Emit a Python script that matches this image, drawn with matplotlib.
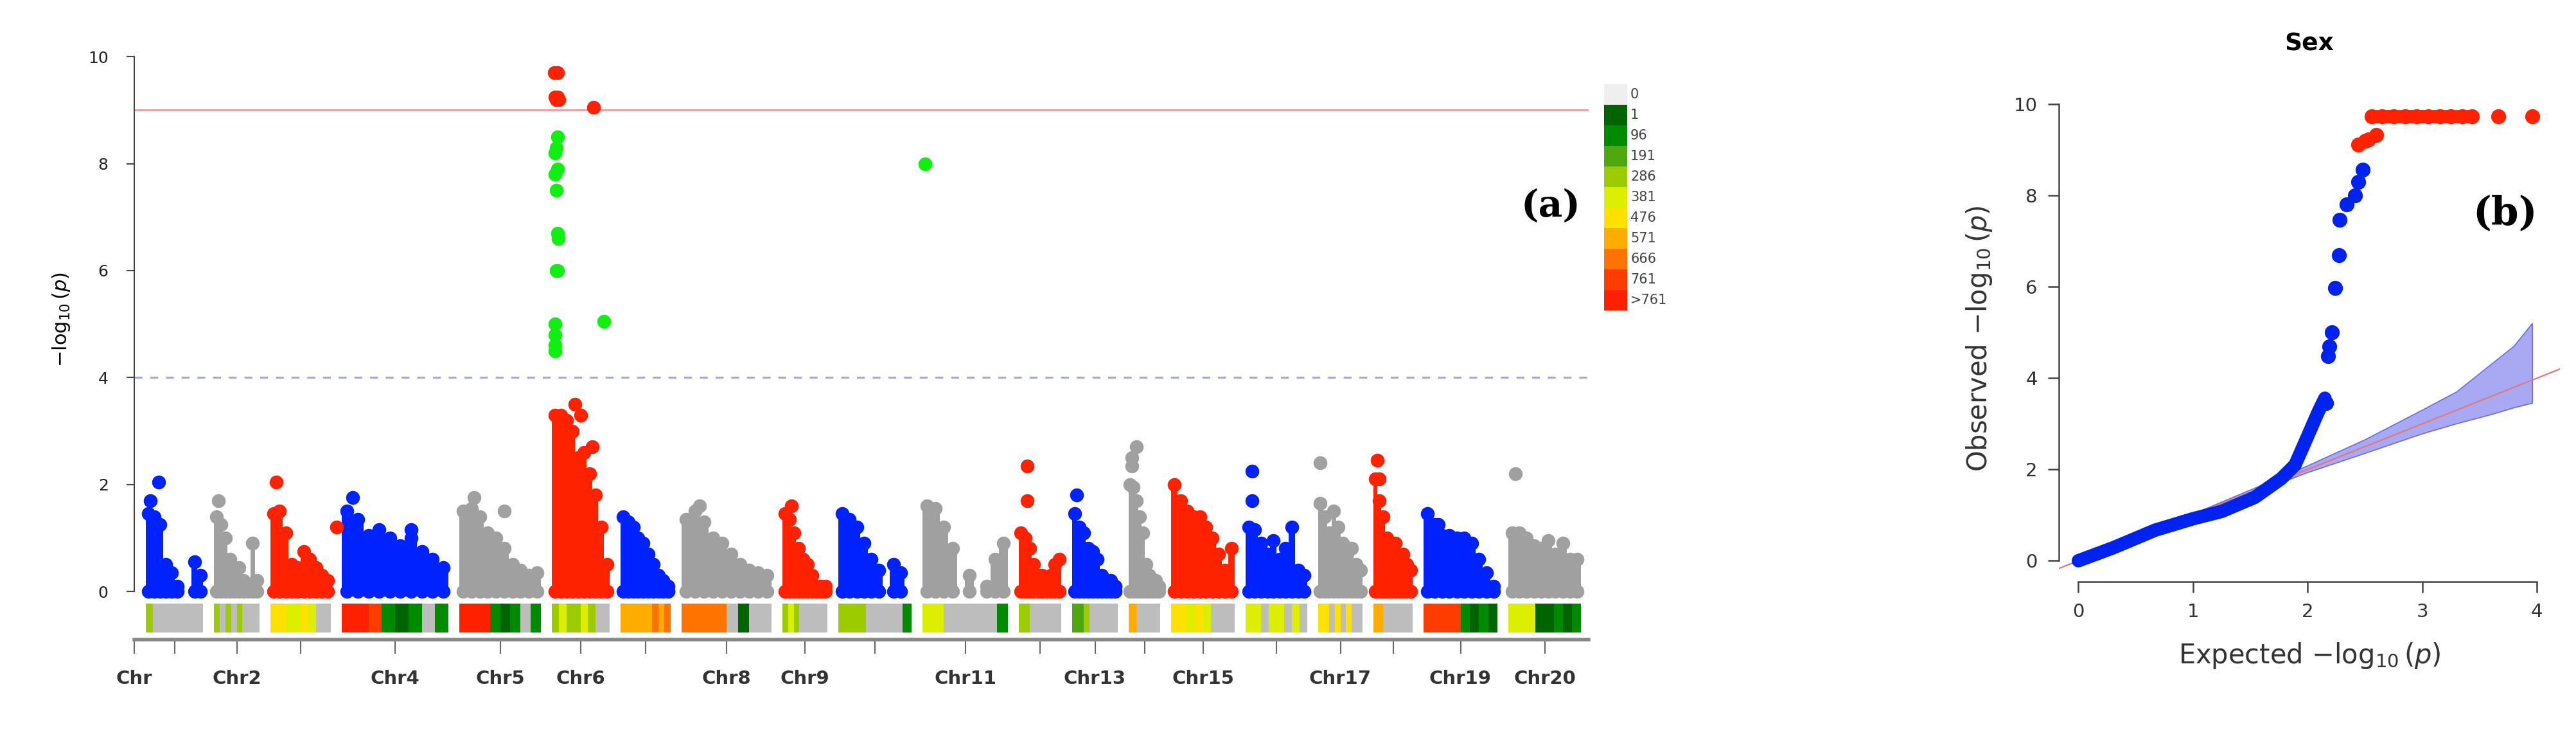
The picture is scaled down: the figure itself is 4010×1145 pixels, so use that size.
import numpy as np
import matplotlib
matplotlib.use("Agg")
import matplotlib.pyplot as plt
from matplotlib.patches import Rectangle, Polygon

W, H = 4010, 1145

# ---- Manhattan data ----
chr_names = ["Chr%d" % i for i in range(1, 21)]
chr_len = [89, 71, 94, 166, 127, 90, 78, 140, 70, 114, 133, 66, 71, 49, 99, 96, 69, 61, 115, 113]
chr_gap = 17
chr_offset0 = 18

# upper envelope of the dense point cloud, 10 bins per chromosome
chr_env = [
    [1.45, 1.4, 1.25, 0.5, 0.35, 0.1, 0, 0, 0.55, 0.3],
    [1.4, 1.25, 1.0, 0.6, 0.4, 0.45, 0.2, 0.15, 0.9, 0.2],
    [1.45, 1.5, 1.1, 0.5, 0.45, 0.75, 0.6, 0.45, 0.3, 0.2],
    [1.5, 1.35, 1.05, 1.15, 1.0, 0.85, 1.0, 0.75, 0.6, 0.45],
    [1.5, 1.55, 1.4, 1.1, 1.0, 0.8, 0.5, 0.4, 0.3, 0.35],
    [3.3, 3.3, 3.2, 3.0, 2.5, 2.6, 2.2, 1.8, 1.2, 0.5],
    [1.4, 1.3, 1.2, 1.0, 0.9, 0.7, 0.5, 0.3, 0.2, 0.1],
    [1.35, 1.5, 1.3, 1.0, 0.9, 0.7, 0.5, 0.4, 0.35, 0.3],
    [1.45, 1.35, 1.1, 0.8, 0.6, 0.5, 0.3, 0.1, 0.1, 0.1],
    [1.45, 1.35, 1.2, 0.9, 0.6, 0.4, 0, 0.5, 0.35, 0],
    [1.6, 1.55, 1.2, 0.8, 0, 0.3, 0, 0.1, 0.6, 0.9],
    [1.1, 1.0, 0.8, 0.5, 0.3, 0.3, 0.2, 0.3, 0.5, 0.6],
    [1.45, 1.2, 1.1, 0.8, 0.75, 0.6, 0.3, 0.2, 0.2, 0.1],
    [2.0, 1.95, 1.7, 1.4, 1.1, 0.5, 0.3, 0.2, 0.2, 0.1],
    [2.0, 1.7, 1.5, 1.4, 1.4, 1.2, 1.0, 0.7, 0.4, 0.8],
    [1.2, 1.15, 0.9, 0.7, 0.95, 0.6, 0.8, 1.2, 0.4, 0.3],
    [1.65, 1.4, 1.1, 1.5, 1.2, 0.9, 0.7, 0.8, 0.5, 0.4],
    [2.1, 1.7, 1.4, 1.0, 0.8, 0.9, 0.6, 0.7, 0.5, 0.4],
    [1.45, 1.25, 1.05, 1.05, 1.0, 1.0, 0.9, 0.6, 0.35, 0.1],
    [1.1, 1.1, 1.0, 0.85, 0.8, 0.95, 0.7, 0.9, 0.6, 0.6],
]

# single visible SNPs: (chromosome index, fraction along chromosome, -log10 p)
snp_chr = [0, 0, 1, 2, 2, 3, 3, 4, 4, 5, 5, 5, 5, 7, 8, 11, 11, 12, 13, 13, 13, 15, 15, 16, 17, 17, 18, 19,
           5, 5, 5, 5, 5, 5, 5, 5, 5, 5, 5, 5, 5, 5, 5, 10,
           5, 5, 5, 5, 5, 5, 5]
snp_frac = [0.08, 0.22, 0.1, 0.1, 1.1, 0.1, 0.65, 0.18, 0.55, 0.4, 0.5, 0.7, 0.85, 0.2, 0.2, 0.2, 0.2, 0.1,
            0.25, 0.1, 0.1, 0.1, 0.1, 0.05, 0.1, 0.15, 0.2, 0.1,
            0.1, 0.08, 0.06, 0.1, 0.05, 0.08, 0.1, 0.11, 0.08, 0.1, 0.06, 0.05, 0.06, 0.05, 0.9, 0.03,
            0.04, 0.1, 0.05, 0.1, 0.12, 0.08, 0.72]
snp_logp = [1.7, 2.05, 1.7, 2.05, 1.2, 1.75, 1.15, 1.75, 1.5, 3.5, 3.3, 2.7, 0.3, 1.6, 1.6, 2.35, 1.7, 1.8,
            2.7, 2.5, 2.35, 2.25, 1.7, 2.4, 2.45, 2.1, 1.25, 2.2,
            8.5, 8.3, 8.2, 7.9, 7.8, 7.5, 6.7, 6.6, 6.0, 6.0, 5.0, 4.8, 4.6, 4.5, 5.05, 8.0,
            9.7, 9.7, 9.25, 9.25, 9.2, 9.2, 9.05]

sig_line = 9.0
sugg_line = 4.0

# SNP density strip, 8 bins per chromosome (index into density colours)
chr_density = [
    [4, 0, 0, 0, 0, 0, 0, 0], [4, 0, 4, 0, 4, 0, 0, 0], [6, 6, 5, 5, 6, 5, 0, 0],
    [10, 10, 9, 2, 1, 2, 0, 2], [10, 10, 10, 2, 1, 2, 0, 2], [4, 5, 4, 4, 5, 4, 0, 0],
    [7, 7, 7, 7, 7, 8, 7, 8], [8, 8, 8, 8, 0, 1, 0, 0], [4, 5, 4, 0, 0, 0, 0, 0],
    [4, 4, 4, 0, 0, 0, 0, 2], [5, 5, 0, 0, 0, 0, 0, 2], [4, 4, 0, 0, 0, 0, 0, 0],
    [3, 3, 4, 0, 0, 0, 0, 0], [7, 7, 0, 0, 0, 0, 0, 0], [6, 6, 5, 6, 5, 0, 0, 0],
    [5, 5, 0, 5, 5, 0, 5, 0], [6, 6, 0, 6, 0, 6, 0, 0], [7, 7, 0, 0, 0, 0, 0, 0],
    [9, 9, 9, 9, 2, 1, 2, 1], [5, 5, 5, 1, 1, 2, 1, 2],
]
density_labels = ["0", "1", "96", "191", "286", "381", "476", "571", "666", "761", ">761"]
density_colors = ["#efefef", "#006400", "#008a00", "#4fa80f", "#9ccc00", "#dcef00",
                  "#ffe100", "#ffac00", "#ff7300", "#ff3c00", "#ff2000"]
strip_zero_color = "#bdbdbd"

chr_labels = ["Chr", "", "Chr2", "", "Chr4", "Chr5", "Chr6", "", "Chr8", "Chr9", "",
              "Chr11", "", "Chr13", "", "Chr15", "", "Chr17", "", "Chr19", "Chr20"]

# ---- QQ data ----
qq_curve_x = [0, 0.3, 0.67, 1.0, 1.25, 1.54, 1.77, 1.89, 2.0, 2.09, 2.15]
qq_curve_y = [0, 0.28, 0.67, 0.92, 1.08, 1.39, 1.8, 2.1, 2.73, 3.25, 3.56]
qq_pts_x = [2.16, 2.18, 2.19, 2.21, 2.24, 2.27, 2.28, 2.34, 2.41, 2.44, 2.48]
qq_pts_y = [3.45, 4.48, 4.7, 5.0, 5.98, 6.7, 7.47, 7.8, 8.0, 8.3, 8.56]
qq_red_x = [2.44, 2.5, 2.53, 2.6, 2.56, 2.65, 2.75, 2.85, 2.95, 3.05, 3.15, 3.25, 3.35, 3.43, 3.66, 3.96]
qq_red_y = [9.12, 9.2, 9.23, 9.33, 9.74, 9.74, 9.74, 9.74, 9.74, 9.74, 9.74, 9.74, 9.74, 9.74, 9.74, 9.74]
band_x = [0, 1, 2, 2.5, 3, 3.3, 3.6, 3.8, 3.96]
band_up = [0, 1.02, 2.08, 2.65, 3.3, 3.7, 4.3, 4.7, 5.2]
band_lo = [0, 0.98, 1.93, 2.35, 2.78, 3.0, 3.2, 3.35, 3.45]

point_colors = ["#0022ff", "#a0a0a0", "#ff2200"]


def fig_rect(l, t, r, b):
    return [l / W, 1 - b / H, (r - l) / W, (b - t) / H]


fig = plt.figure(figsize=(W / 100, H / 100), dpi=100)
narrow = "Liberation Sans Narrow"

# ---------------- Manhattan ----------------
ax = fig.add_axes(fig_rect(209, 60, 2473, 935))
starts = []
pos = chr_offset0
for L in chr_len:
    starts.append(pos)
    pos += L + chr_gap
total = 2264
ax.set_xlim(0, total)
ax.set_ylim(-0.18, 10.34)

msize = 240
for i, (st, L) in enumerate(zip(starts, chr_len)):
    col = point_colors[i % 3]
    env = np.array(chr_env[i])
    xs = st + (np.arange(len(env)) + 0.5) / len(env) * L
    keep = env > 0
    ax.bar(xs[keep], env[keep] + 0.1, bottom=-0.1, width=L / len(env) * 1.05, color=col, lw=0, zorder=2)
    ax.scatter(xs[keep], env[keep], s=msize, color=col, lw=0, zorder=3)
    ax.scatter(xs[keep], np.zeros(keep.sum()), s=msize, color=col, lw=0, zorder=3)

for c, f, v in zip(snp_chr, snp_frac, snp_logp):
    x = starts[c] + f * chr_len[c]
    if v >= sig_line:
        col = "#ff2200"
    elif v >= sugg_line:
        col = "#11ee11"
    else:
        col = point_colors[c % 3]
    ax.scatter([x], [v], s=msize, color=col, lw=0, zorder=4)

ax.axhline(sig_line, color="#e8a4a4", lw=2.2, zorder=1)
ax.axhline(sugg_line, color="#a8a8cc", lw=2.2, ls=(0, (4, 4)), zorder=1)

for s in ["top", "right", "bottom"]:
    ax.spines[s].set_visible(False)
ax.spines["left"].set_bounds(0, 10)
ax.spines["left"].set_color("#444444")
ax.spines["left"].set_linewidth(1.5)
ax.set_yticks([0, 2, 4, 6, 8, 10])
ax.tick_params(axis="y", labelsize=18, length=9, width=1.5, color="#444444", pad=20, labelcolor="#222222")
ax.set_xticks([])
ax.set_ylabel(r"$-\log_{10}(\mathit{p})$", fontsize=22)
ax.yaxis.set_label_coords(-0.043, 0.5)
ax.text(2205, 7.2, "(a)", fontsize=42, family="serif", fontweight="bold", ha="center", va="center")

# density strip + chromosome axis
axd = fig.add_axes(fig_rect(209, 939, 2473, 995))
axd.set_xlim(0, total)
axd.set_ylim(0, 1)
for i, (st, L) in enumerate(zip(starts, chr_len)):
    bins = chr_density[i]
    bw = L / len(bins)
    for j, d in enumerate(bins):
        c = strip_zero_color if d == 0 else density_colors[d]
        axd.add_patch(Rectangle((st + j * bw, 0.2), bw * 1.01, 0.8, color=c, lw=0))
for s in ["top", "right", "left"]:
    axd.spines[s].set_visible(False)
axd.spines["bottom"].set_color("#888888")
axd.spines["bottom"].set_linewidth(4)
axd.set_yticks([])
tick_pos = [0] + [st + L / 2 for st, L in zip(starts, chr_len)]
axd.set_xticks(tick_pos)
axd.set_xticklabels(chr_labels, family=narrow, fontsize=21, fontweight="bold", color="#333333")
axd.tick_params(axis="x", length=16, width=1.5, color="#666666", pad=18)

# density legend
for k, (lab, col) in enumerate(zip(density_labels, density_colors)):
    top = 131 + k * 32
    fig.patches.append(Rectangle((2497 / W, 1 - (top + 32) / H), 36 / W, 32 / H,
                                 transform=fig.transFigure, color=col, lw=0))
    fig.text(2538 / W, 1 - (top + 16) / H, lab, fontsize=15, family=narrow, color="#444444", va="center")

# ---------------- QQ plot ----------------
aq = fig.add_axes(fig_rect(3205, 148, 3985, 905))
aq.set_xlim(-0.17, 4.2)
aq.set_ylim(-0.46, 10.2)
aq.add_patch(Polygon(list(zip(band_x, band_up)) + list(zip(band_x[::-1], band_lo[::-1])),
                     closed=True, facecolor="#9a9af2", edgecolor="#5a5ae0", lw=1.2, alpha=0.85, zorder=1))
aq.plot([-0.17, 4.2], [-0.17, 4.2], color="#e07a7a", lw=1.6, zorder=2)
aq.plot(qq_curve_x, qq_curve_y, color="#0022ee", lw=15, solid_capstyle="round", zorder=3)
aq.scatter(qq_pts_x, qq_pts_y, s=280, color="#0022ee", lw=0, zorder=4)
aq.scatter(qq_red_x, qq_red_y, s=280, color="#ff2200", lw=0, zorder=4)
aq.plot([2.56, 3.43], [9.74, 9.74], color="#ff2200", lw=15, solid_capstyle="round", zorder=4)
for s in ["top", "right"]:
    aq.spines[s].set_visible(False)
aq.spines["left"].set_bounds(0, 10)
aq.spines["bottom"].set_bounds(0, 4)
for s in ["left", "bottom"]:
    aq.spines[s].set_color("#444444")
    aq.spines[s].set_linewidth(1.8)
aq.set_xticks([0, 1, 2, 3, 4])
aq.set_yticks([0, 2, 4, 6, 8, 10])
aq.tick_params(labelsize=21, length=12, width=1.8, color="#444444", labelcolor="#333333", pad=12)
aq.set_xlabel(r"Expected $-\log_{10}(\mathit{p})$", fontsize=30, color="#333333", labelpad=22)
aq.set_ylabel(r"Observed $-\log_{10}(\mathit{p})$", fontsize=30, color="#333333", labelpad=22)
aq.set_title("Sex", fontsize=27, fontweight="bold", pad=50)
aq.text(3.72, 7.6, "(b)", fontsize=44, family="serif", fontweight="bold", ha="center", va="center")

fig.savefig("out.png", dpi=100, facecolor="white")
